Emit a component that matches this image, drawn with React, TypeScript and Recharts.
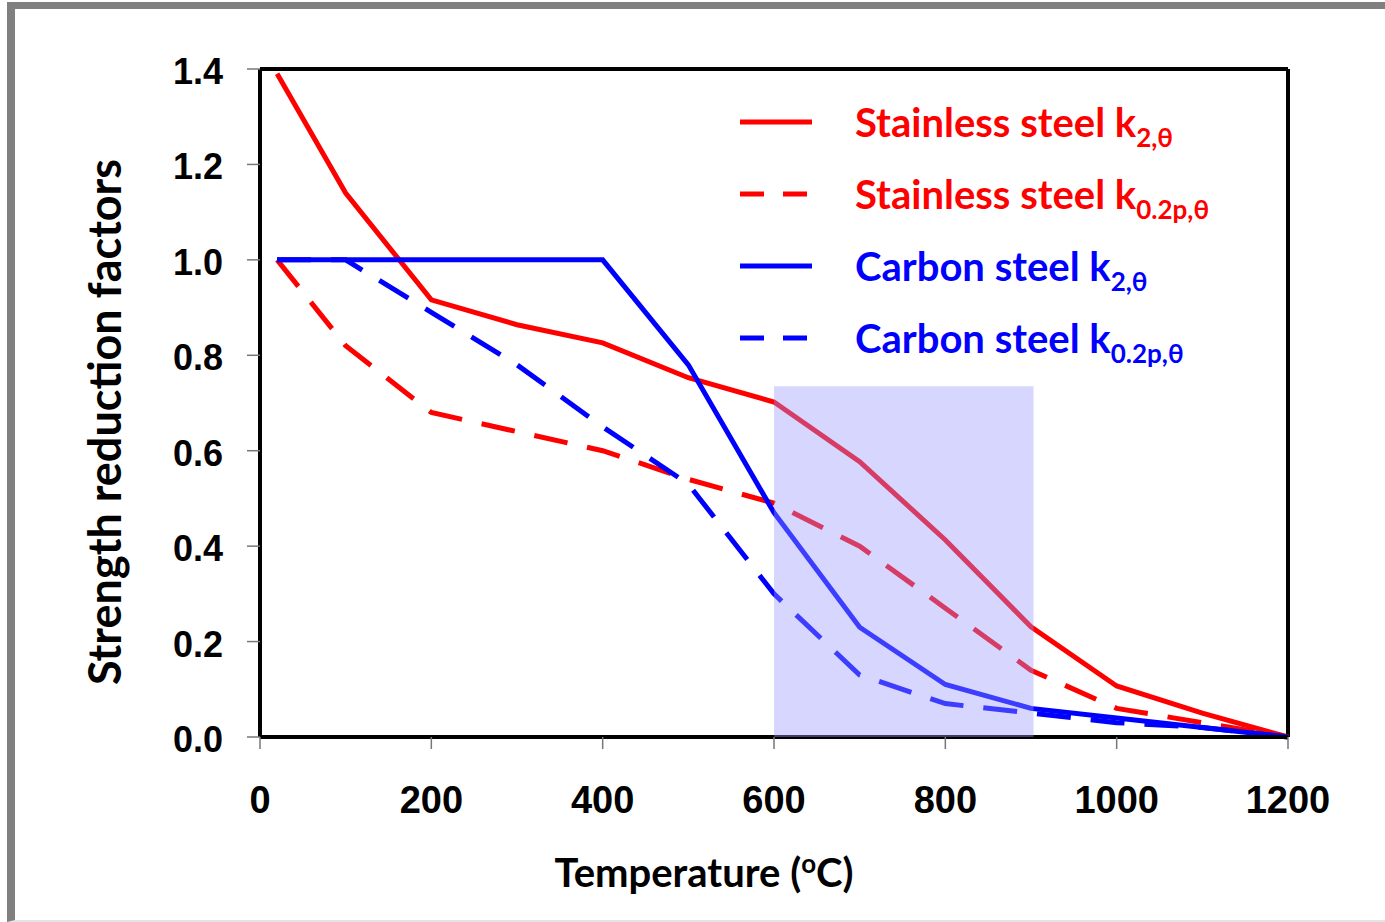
import React from "react";
import {
  Legend,
  Line,
  LineChart,
  ReferenceArea,
  ReferenceLine,
  XAxis,
  YAxis,
} from "recharts";

// temperatures (°C) and reduction factors
const temps = [20, 100, 200, 300, 400, 500, 600, 700, 800, 900, 1000, 1100, 1200];
const stainlessK2 = [1.39, 1.14, 0.916, 0.864, 0.826, 0.753, 0.702, 0.577, 0.413, 0.231, 0.107, 0.05, 0];
const stainlessK02 = [1.0, 0.82, 0.68, 0.64, 0.6, 0.54, 0.49, 0.4, 0.27, 0.14, 0.06, 0.03, 0];
const carbonK2 = [1.0, 1.0, 1.0, 1.0, 1.0, 0.78, 0.47, 0.23, 0.11, 0.06, 0.04, 0.02, 0];
const carbonK02 = [1.0, 1.0, 0.89, 0.78, 0.65, 0.53, 0.3, 0.13, 0.07, 0.05, 0.03, 0.02, 0];

const xTicks = [0, 200, 400, 600, 800, 1000, 1200];
const yTicks = [0, 0.2, 0.4, 0.6, 0.8, 1.0, 1.2, 1.4];

// highlighted temperature band
const bandX = [600, 903];
const bandTop = 0.735;

const series = [
  { key: "ssK2", label: "Stainless steel k", sub: "2,θ", color: "#ff0000", dashed: false },
  { key: "ssK02", label: "Stainless steel k", sub: "0.2p,θ", color: "#ff0000", dashed: true },
  { key: "csK2", label: "Carbon steel k", sub: "2,θ", color: "#0000ff", dashed: false },
  { key: "csK02", label: "Carbon steel k", sub: "0.2p,θ", color: "#0000ff", dashed: true },
];

const rows = temps.map((t, i) => ({
  t,
  ssK2: stainlessK2[i],
  ssK02: stainlessK02[i],
  csK2: carbonK2[i],
  csK02: carbonK02[i],
}));

const TITLE_FONT = "Lato, 'Open Sans', sans-serif";
const NUM_FONT = "'Liberation Sans', Arial, sans-serif";

function XTick({ x, y, payload }: any) {
  return (
    <text x={x} y={y + 62} textAnchor="middle" fontFamily={NUM_FONT} fontWeight="bold" fontSize={38} fill="#000">
      {payload.value}
    </text>
  );
}

function YTick({ y, payload }: any) {
  return (
    <text x={223} y={y + 15} textAnchor="end" fontFamily={NUM_FONT} fontWeight="bold" fontSize={36} fill="#000">
      {Number(payload.value).toFixed(1)}
    </text>
  );
}

function XTitle() {
  return (
    <text x={704} y={887} textAnchor="middle" fontFamily={TITLE_FONT} fontWeight="bold" fontSize={40} fill="#000">
      Temperature (
      <tspan fontSize={26} dy={-14}>o</tspan>
      <tspan dy={14}>C)</tspan>
    </text>
  );
}

function YTitle() {
  return (
    <text
      x={121}
      y={422}
      transform="rotate(-90 121 422)"
      textAnchor="middle"
      fontFamily={TITLE_FONT}
      fontWeight="bold"
      fontSize={45}
      fill="#000"
    >
      Strength reduction factors
    </text>
  );
}

function LegendBox() {
  return (
    <svg width={600} height={290} style={{ overflow: "visible" }}>
      {series.map((s, i) => {
        const cy = 34 + i * 72;
        return (
          <g key={s.key}>
            <line
              x1={10}
              x2={82}
              y1={cy}
              y2={cy}
              stroke={s.color}
              strokeWidth={5}
              strokeDasharray={s.dashed ? "24 19" : undefined}
            />
            <text x={125} y={cy + 15} fontFamily={TITLE_FONT} fontWeight="bold" fontSize={40} fill={s.color}>
              {s.label}
              <tspan fontSize={26} dy={10}>{s.sub}</tspan>
            </text>
          </g>
        );
      })}
    </svg>
  );
}

export default function App() {
  return (
    <div style={{ position: "absolute", left: 0, top: 0, width: 1385, height: 922, overflow: "hidden", background: "#fff" }}>
      {/* slide frame */}
      <div
        style={{
          position: "absolute",
          left: 7,
          top: 2,
          width: 1400,
          height: 911,
          borderTop: "7px solid #808080",
          borderLeft: "8px solid #808080",
          borderBottom: "2px solid #e4e4e4",
        }}
      />
      <div style={{ position: "absolute", left: 0, top: 0 }}>
        <LineChart width={1385} height={922} data={rows} margin={{ top: 69, right: 97, bottom: 85, left: 160 }}>
          <XAxis
            dataKey="t"
            type="number"
            domain={[0, 1200]}
            ticks={xTicks}
            height={100}
            axisLine={{ stroke: "#000", strokeWidth: 4 }}
            tickLine={{ stroke: "#777", strokeWidth: 1.5 }}
            tickSize={12}
            tick={<XTick />}
            label={<XTitle />}
          />
          <YAxis
            type="number"
            domain={[0, 1.4]}
            ticks={yTicks}
            width={100}
            axisLine={{ stroke: "#000", strokeWidth: 4 }}
            tickLine={{ stroke: "#777", strokeWidth: 1.5 }}
            tickSize={13}
            tick={<YTick />}
            label={<YTitle />}
          />
          <ReferenceLine y={1.4} stroke="#000" strokeWidth={4} />
          <ReferenceLine x={1200} stroke="#000" strokeWidth={4} />
          {series.map((s) => (
            <Line
              key={s.key}
              dataKey={s.key}
              type="linear"
              stroke={s.color}
              strokeWidth={5}
              strokeDasharray={s.dashed ? "34 20" : undefined}
              dot={false}
              activeDot={false}
              isAnimationActive={false}
            />
          ))}
          <ReferenceArea
            x1={bandX[0]}
            x2={bandX[1]}
            y1={0}
            y2={bandTop}
            fill="#9999ff"
            fillOpacity={0.4}
            stroke="none"
            zIndex={1000}
          />
          <Legend
            layout="vertical"
            align="center"
            verticalAlign="middle"
            wrapperStyle={{ top: 88, left: 730, width: 600, height: 290 }}
            content={<LegendBox />}
          />
        </LineChart>
      </div>
    </div>
  );
}
